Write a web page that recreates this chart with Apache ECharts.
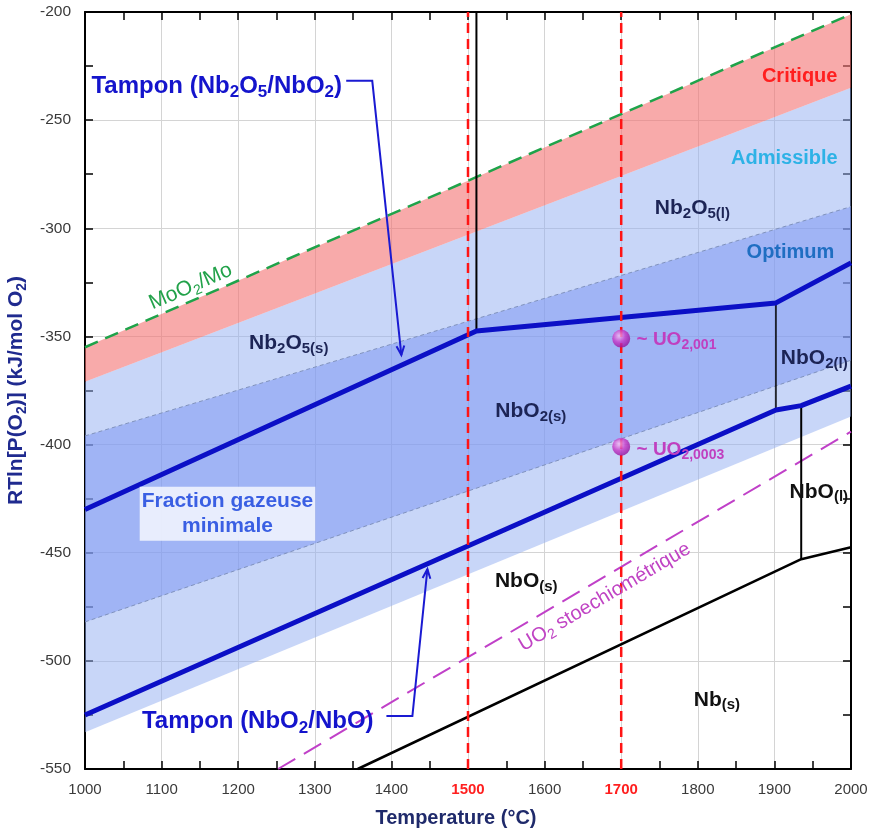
<!DOCTYPE html>
<html><head><meta charset="utf-8">
<script src="https://cdn.jsdelivr.net/npm/echarts@6/dist/echarts.min.js"></script>
<style>html,body{margin:0;padding:0;background:#fff}#c{width:869px;height:831px}</style>
</head><body><div id="c"></div>
<script>
// ---------- data ----------
const xRange = [1000, 2000];
const yRange = [-550, -200];
const xStep = 100, yStep = 50;
const refTemps = [1500, 1700];                       // red dashed verticals / red tick labels
const moLine = [[1000, -355], [2000, -201]];          // MoO2/Mo
const critiqueLower = [[1000, -371], [2000, -235]];
const admissibleLower = [[1000, -533], [2000, -387]];
const optimumUpper = [[1000, -396], [2000, -290]];
const optimumLower = [[1000, -482], [2000, -361]];
const tamponNb2O5 = [[1000, -430], [1511, -347.5], [1902, -334.5], [2000, -316]];
const tamponNbO2 = [[1000, -525], [1902, -384], [1935, -382], [2000, -373]];
const nbNbO = [[1356, -550], [1935, -453], [2000, -447.5]];
const uo2Line = [[1252, -550], [2000, -394]];
const meltNb2O5 = [[1511, -200], [1511, -347.5]];
const meltNbO2 = [[1902, -334.5], [1902, -384]];
const meltNbO = [[1935, -382], [1935, -453]];
const uoPoints = [[1700, -351], [1700, -401]];
const arrowNb2O5 = [[1341, -231.8], [1375, -231.8], [1413, -358.6]];
const arrowNbO2 = [[1393.5, -525.5], [1427.4, -525.5], [1447, -457.6]];
const annotations = [
  {text: 'Tampon (Nb{s|2}O{s|5}/NbO{s|2})', x: 1172, y: -234.2, kind: 'tampon'},
  {text: 'Tampon (NbO{s|2}/NbO)', x: 1225.5, y: -528, kind: 'tampon'},
  {text: 'Critique', x: 1933, y: -230, kind: 'critique'},
  {text: 'Admissible', x: 1913, y: -267.5, kind: 'admissible'},
  {text: 'Nb{s|2}O{s|5(l)}', x: 1793, y: -290.6, kind: 'phaseNavy'},
  {text: 'Optimum', x: 1921, y: -311, kind: 'optimum'},
  {text: 'NbO{s|2(l)}', x: 1952, y: -360, kind: 'phaseNavy'},
  {text: 'Nb{s|2}O{s|5(s)}', x: 1266, y: -353, kind: 'phaseNavy'},
  {text: 'NbO{s|2(s)}', x: 1582, y: -384.8, kind: 'phaseNavy'},
  {text: 'NbO{s|(l)}', x: 1958, y: -421.8, kind: 'phaseBlack'},
  {text: 'NbO{s|(s)}', x: 1576, y: -463.4, kind: 'phaseBlack'},
  {text: 'Nb{s|(s)}', x: 1825, y: -518, kind: 'phaseBlack'},
  {text: 'Fraction gazeuse\nminimale', x: 1186, y: -432, kind: 'fraction'},
  {text: 'MoO{s|2}/Mo', x: 1138, y: -327, kind: 'mo', along: 'mo'},
  {text: 'UO{s|2} stoechiométrique', x: 1678.5, y: -470.5, kind: 'uo2', along: 'uo2'},
  {text: '~ UO{s|2,001}', x: 1720, y: -351.5, kind: 'uoPt'},
  {text: '~ UO{s|2,0003}', x: 1720, y: -402.5, kind: 'uoPt'}
];

// ---------- styles ----------
const FONT = '"Liberation Sans", Arial, Helvetica, sans-serif';
function textStyle(size, color, weight, subSize, lh) {
  return {
    fill: color, fontSize: size, fontWeight: weight, fontFamily: FONT, lineHeight: lh,
    rich: {s: {fill: color, fontSize: subSize, fontWeight: weight, fontFamily: FONT,
               lineHeight: Math.round(subSize * 0.9), verticalAlign: 'bottom'}}
  };
}
const kindStyles = {
  tampon: textStyle(24, '#1414cc', 'bold', 17, 30),
  critique: textStyle(20, '#ff1f1f', 'bold', 14, 24),
  admissible: textStyle(20, '#2db2e6', 'bold', 14, 24),
  optimum: textStyle(20, '#1f6ec2', 'bold', 14, 24),
  phaseNavy: textStyle(21, '#1c2455', 'bold', 15, 26),
  phaseBlack: textStyle(21, '#111111', 'bold', 15, 26),
  fraction: Object.assign(textStyle(21, '#3a5fe3', 'bold', 14, 25),
                          {backgroundColor: 'rgba(238,242,253,0.92)', padding: [2, 2, 2, 2]}),
  mo: textStyle(21, '#22a24a', 'normal', 14, 26),
  uo2: textStyle(20, '#c044c4', 'normal', 14, 25),
  uoPt: Object.assign(textStyle(19, '#c040c0', 'bold', 14, 24), {align: 'left'})
};
const alongLines = {mo: moLine, uo2: uo2Line};

// ---------- helpers ----------
function polygonSeries(upper, lower, color, z) {
  const pts = upper.concat(lower.slice().reverse());
  return {
    type: 'custom', z: z, silent: true, clip: true, data: pts,
    renderItem: function (params, api) {
      if (params.dataIndex !== 0) return null;
      return {type: 'polygon', shape: {points: pts.map(p => api.coord(p))},
              style: {fill: color, stroke: 'none'}};
    }
  };
}
function lineSeries(data, color, width, dash, z) {
  return {
    type: 'line', data: data, symbol: 'none', silent: true, z: z,
    lineStyle: {color: color, width: width, type: dash || 'solid'}, clip: true
  };
}
function arrowSeries(pts, color) {
  return {
    type: 'custom', z: 8, silent: true, clip: false, data: pts,
    renderItem: function (params, api) {
      if (params.dataIndex !== 0) return null;
      const px = pts.map(p => api.coord(p));
      const a = px[px.length - 2], b = px[px.length - 1];
      const ang = Math.atan2(b[1] - a[1], b[0] - a[0]);
      const L = 10, h = 0.4;
      const l1 = [b[0] - L * Math.cos(ang - h), b[1] - L * Math.sin(ang - h)];
      const l2 = [b[0] - L * Math.cos(ang + h), b[1] - L * Math.sin(ang + h)];
      return {type: 'group', children: [
        {type: 'polyline', shape: {points: px}, style: {stroke: color, lineWidth: 2, fill: null}},
        {type: 'polyline', shape: {points: [l1, b, l2]}, style: {stroke: color, lineWidth: 2, fill: null}}
      ]};
    }
  };
}

const chart = echarts.init(document.getElementById('c'), null, {renderer: 'canvas'});

const axisLineStyle = {color: '#000', width: 2};
const tickStyle = {color: '#000', width: 1.5};
function xAxisCfg(pos, main) {
  return {
    type: 'value', min: xRange[0], max: xRange[1], interval: xStep, position: pos,
    axisLine: {show: true, onZero: false, lineStyle: axisLineStyle},
    axisTick: {show: true, inside: true, length: 8, lineStyle: tickStyle},
    minorTick: {show: true, splitNumber: 2, length: 8, lineStyle: tickStyle},
    splitLine: {show: main, lineStyle: {color: '#d4d4d4', width: 1}},
    axisLabel: main ? {
      show: true, margin: 13, fontSize: 15, fontFamily: FONT, color: '#3a3a3a',
      formatter: v => refTemps.indexOf(v) >= 0 ? '{r|' + v + '}' : String(v),
      rich: {r: {color: '#ff1f1f', fontWeight: 'bold', fontSize: 15, fontFamily: FONT}}
    } : {show: false},
    name: main ? 'Temperature (°C)' : '', nameLocation: 'middle', nameGap: 39,
    nameTextStyle: {fontSize: 20, fontWeight: 'bold', fontFamily: FONT, color: '#1f2a6b', padding: [0, 24, 0, 0]}
  };
}
function yAxisCfg(pos, main) {
  return {
    type: 'value', min: yRange[0], max: yRange[1], interval: yStep, position: pos,
    axisLine: {show: true, onZero: false, lineStyle: axisLineStyle},
    axisTick: {show: true, inside: true, length: 8, lineStyle: tickStyle},
    minorTick: {show: true, splitNumber: 2, length: 8, lineStyle: tickStyle},
    splitLine: {show: main, lineStyle: {color: '#d4d4d4', width: 1}},
    axisLabel: main ? {show: true, margin: 14, fontSize: 15.5, fontFamily: FONT, color: '#3a3a3a'} : {show: false},
    name: main ? 'RTln[P(O{s|2})] (kJ/mol O{s|2})' : '', nameLocation: 'middle', nameGap: 48,
    nameTextStyle: {fontSize: 21, fontWeight: 'bold', fontFamily: FONT, color: '#1f2a8f', lineHeight: 26,
      rich: {s: {fontSize: 14, fontWeight: 'bold', fontFamily: FONT, color: '#1f2a8f', lineHeight: 13, verticalAlign: 'bottom'}}}
  };
}

const series = [
  polygonSeries(critiqueLower, admissibleLower, 'rgba(145,173,241,0.5)', 1),
  polygonSeries(optimumUpper, optimumLower, 'rgba(120,146,242,0.5)', 2),
  polygonSeries(moLine, critiqueLower, 'rgba(243,113,113,0.6)', 2),
  lineSeries(optimumUpper, '#8092bd', 1, [4, 3], 3),
  lineSeries(optimumLower, '#8092bd', 1, [4, 3], 3),
  lineSeries(moLine, '#1fa34a', 2.5, [14, 8], 4),
  lineSeries(uo2Line, '#c040c8', 2, [20, 10], 4),
  lineSeries(nbNbO, '#000', 2.5, 'solid', 4),
  lineSeries(meltNb2O5, '#000', 2, 'solid', 4),
  lineSeries(meltNbO2, '#000', 1.5, 'solid', 4),
  lineSeries(meltNbO, '#000', 2, 'solid', 4),
  lineSeries(tamponNb2O5, '#0b0fc6', 5, 'solid', 5),
  lineSeries(tamponNbO2, '#0b0fc6', 5, 'solid', 5)
];
refTemps.forEach(t => series.push(lineSeries([[t, yRange[0]], [t, yRange[1]]], '#ff1414', 2.5, [10, 6], 6)));
series.push({
  type: 'scatter', data: uoPoints, symbol: 'circle', symbolSize: 18, z: 7, silent: true,
  itemStyle: {color: {type: 'radial', x: 0.38, y: 0.35, r: 0.7,
    colorStops: [{offset: 0, color: '#f5c0f5'}, {offset: 0.5, color: '#c838c8'}, {offset: 1, color: '#8e0e9a'}]}}
});
series.push(arrowSeries(arrowNb2O5, '#1a1ad2'));
series.push(arrowSeries(arrowNbO2, '#1a1ad2'));
series.push({
  type: 'custom', z: 9, silent: true, clip: false,
  data: annotations.map(a => [a.x, a.y]),
  renderItem: function (params, api) {
    const a = annotations[params.dataIndex];
    const p = api.coord([a.x, a.y]);
    const st = kindStyles[a.kind];
    let rot = 0;
    if (a.along) {
      const ln = alongLines[a.along];
      const p0 = api.coord(ln[0]), p1 = api.coord(ln[ln.length - 1]);
      rot = -Math.atan2(p1[1] - p0[1], p1[0] - p0[0]);
    }
    return {
      type: 'text', x: p[0], y: p[1], rotation: rot,
      style: Object.assign({text: a.text, align: 'center', verticalAlign: 'middle'}, st)
    };
  }
});

chart.setOption({
  animation: false,
  backgroundColor: '#ffffff',
  grid: {left: 85, right: 18, top: 12, bottom: 62, containLabel: false, outerBoundsMode: 'none'},
  xAxis: [xAxisCfg('bottom', true), xAxisCfg('top', false)],
  yAxis: [yAxisCfg('left', true), yAxisCfg('right', false)],
  series: series
});
</script></body></html>
